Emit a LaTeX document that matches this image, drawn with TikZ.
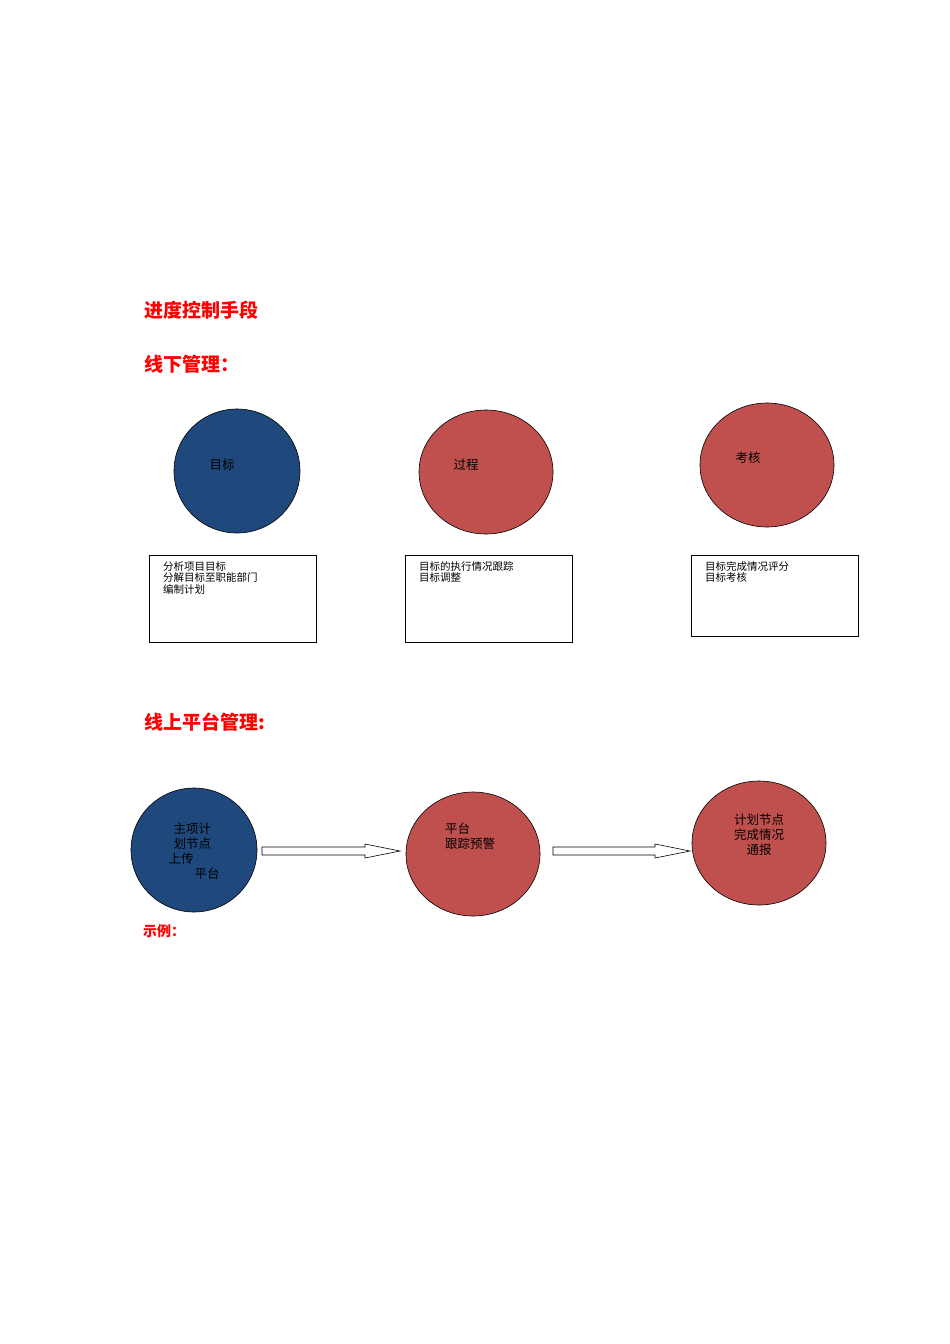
\documentclass[tikz,border=0pt]{standalone}
\usepackage{fontspec}
\newfontfamily\cjk{Noto Sans CJK SC}
\usetikzlibrary{shapes.geometric,calc}
\definecolor{cblue}{HTML}{1F497D}
\definecolor{cred}{HTML}{C0504D}
\definecolor{hred}{HTML}{FF0000}
\begin{document}
\begin{tikzpicture}[x=1pt,y=-1pt,
  head/.style={anchor=west,text=hred,font=\cjk\bfseries\fontsize{19}{22}\selectfont,inner sep=0},
  blob/.style={ellipse,draw=black,line width=0.6pt,inner sep=0},
  bluec/.style={blob,fill=cblue},
  redc/.style={blob,fill=cred},
  ctext/.style={font=\cjk\fontsize{12.5}{15}\selectfont,align=left,inner sep=0},
  textbox/.style={draw=black,line width=0.8pt,inner sep=0},
  btext/.style={font=\cjk\fontsize{10.5}{11.5}\selectfont,align=left,anchor=north west,inner sep=0}]
\useasboundingbox (0,0) rectangle (950,1344);
\node[head] (h1) at (144,310) {进度控制手段};
\node[head] (h2) at (144,364) {线下管理：};
\node[head] (h3) at (144,722) {线上平台管理:};
\node[anchor=west,text=hred,font=\cjk\bfseries\fontsize{14}{16}\selectfont,inner sep=0] (h4) at (143,931) {示例：};

\node[bluec,minimum width=126,minimum height=124] (c1) at (237,471) {};
\node[ctext] (t1) at (222,465) {目标};
\node[redc,minimum width=134,minimum height=124] (c2) at (486,472) {};
\node[ctext] (t2) at (466,465) {过程};
\node[redc,minimum width=134,minimum height=124] (c3) at (767,465) {};
\node[ctext] (t3) at (748,458) {考核};

\node[textbox,minimum width=167,minimum height=87,anchor=north west] (b1) at (149,555) {};
\node[btext] (bt1) at (163,561) {分析项目目标\\分解目标至职能部门\\编制计划};
\node[textbox,minimum width=167,minimum height=87,anchor=north west] (b2) at (405,555) {};
\node[btext] (bt2) at (419,561) {目标的执行情况跟踪\\目标调整};
\node[textbox,minimum width=167,minimum height=81,anchor=north west] (b3) at (691,555) {};
\node[btext] (bt3) at (705,561) {目标完成情况评分\\目标考核};

\node[bluec,minimum width=126,minimum height=124] (d1) at (194,850) {};
\node[ctext,align=left] (s1) at (194,851) {\hspace*{5pt}主项计\\\hspace*{5pt}划节点\\上传\\\hspace*{26pt}平台};
\node[redc,minimum width=134,minimum height=124] (d2) at (473,854) {};
\node[ctext] (s2) at (470,836) {平台\\跟踪预警};
\node[redc,minimum width=134,minimum height=124] (d3) at (759,843) {};
\node[ctext,align=center] (s3) at (759,835) {计划节点\\完成情况\\通报};

\coordinate (a1s) at (262,851);
\coordinate (a1e) at (400,851);
\draw[fill=white,line width=0.6pt] ($(a1s)+(0,-4)$) -- ($(a1e)+(-35,-4)$) -- ($(a1e)+(-35,-7)$) -- (a1e) -- ($(a1e)+(-35,7)$) -- ($(a1e)+(-35,4)$) -- ($(a1s)+(0,4)$) -- cycle;
\coordinate (a2s) at (553,851);
\coordinate (a2e) at (690,851);
\draw[fill=white,line width=0.6pt] ($(a2s)+(0,-4)$) -- ($(a2e)+(-35,-4)$) -- ($(a2e)+(-35,-7)$) -- (a2e) -- ($(a2e)+(-35,7)$) -- ($(a2e)+(-35,4)$) -- ($(a2s)+(0,4)$) -- cycle;
\end{tikzpicture}
\end{document}
